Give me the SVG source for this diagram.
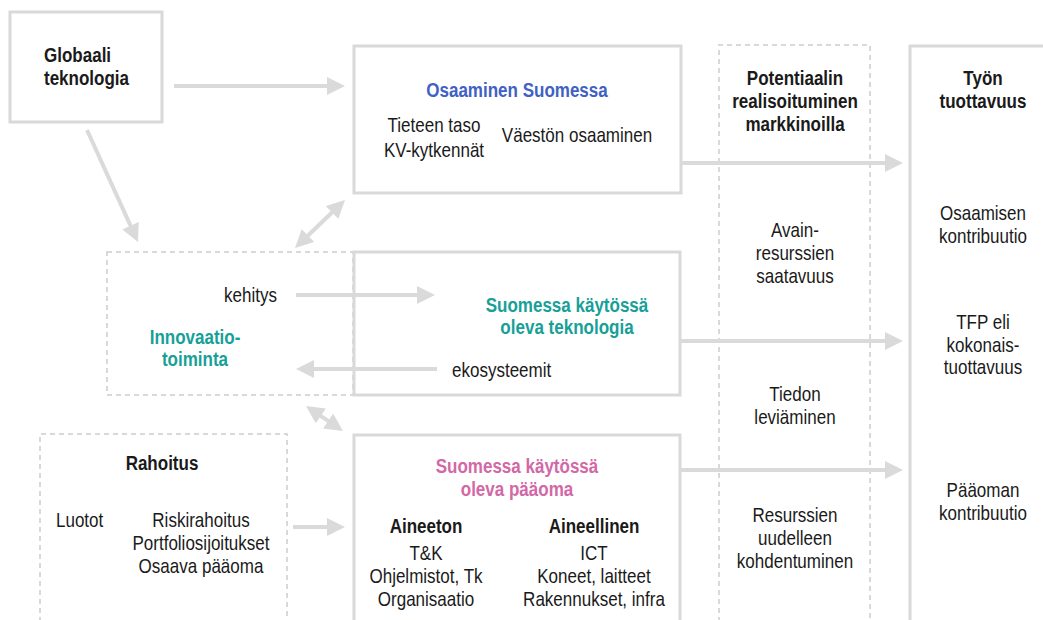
<svg xmlns="http://www.w3.org/2000/svg" width="1043" height="620" viewBox="0 0 1043 620">
<defs>
<style>
text{font-family:"Liberation Sans",Arial,sans-serif;font-size:20.5px;fill:#1a1a1a}
.b{font-weight:bold}
.c{text-anchor:middle}
.e{text-anchor:end}
.blue{fill:#3f61c4}
.teal{fill:#17a097}
.pink{fill:#d268a6}
.box{fill:none;stroke:#d9d9d9;stroke-width:3}
.dash{fill:none;stroke:#d9d9d9;stroke-width:2;stroke-dasharray:5 4}
.con line{stroke:#dadada;stroke-width:4}
</style>
<marker id="ah" markerUnits="userSpaceOnUse" markerWidth="18" markerHeight="18" viewBox="0 0 18 18" refX="4" refY="9" orient="auto-start-reverse">
<path d="M0,0 L18,9 L0,18 z" fill="#dadada"/>
</marker>
</defs>
<rect width="1043" height="620" fill="#ffffff"/>

<g id="potentiaali">
<path class="dash" d="M719,640 V45 H870 V640"/>
<text class="b c" transform="translate(795 85) scale(.83 1)">Potentiaalin</text>
<text class="b c" transform="translate(795 108) scale(.83 1)">realisoituminen</text>
<text class="b c" transform="translate(795 131) scale(.83 1)">markkinoilla</text>
<text class="c" transform="translate(795 237) scale(.83 1)">Avain-</text>
<text class="c" transform="translate(795 260) scale(.83 1)">resurssien</text>
<text class="c" transform="translate(795 283) scale(.83 1)">saatavuus</text>
<text class="c" transform="translate(795 401) scale(.83 1)">Tiedon</text>
<text class="c" transform="translate(795 424) scale(.83 1)">leviäminen</text>
<text class="c" transform="translate(795 522) scale(.83 1)">Resurssien</text>
<text class="c" transform="translate(795 545) scale(.83 1)">uudelleen</text>
<text class="c" transform="translate(795 568) scale(.83 1)">kohdentuminen</text>
</g>

<g id="tyon-tuottavuus">
<path class="box" d="M910,640 V46 H1060"/>
<text class="b c" transform="translate(983 85) scale(.83 1)">Työn</text>
<text class="b c" transform="translate(983 108) scale(.83 1)">tuottavuus</text>
<text class="c" transform="translate(983 220) scale(.83 1)">Osaamisen</text>
<text class="c" transform="translate(983 243) scale(.83 1)">kontribuutio</text>
<text class="c" transform="translate(983 329) scale(.83 1)">TFP eli</text>
<text class="c" transform="translate(983 352) scale(.83 1)">kokonais-</text>
<text class="c" transform="translate(983 374) scale(.83 1)">tuottavuus</text>
<text class="c" transform="translate(983 497) scale(.83 1)">Pääoman</text>
<text class="c" transform="translate(983 520) scale(.83 1)">kontribuutio</text>
</g>

<g id="globaali">
<rect class="box" x="10" y="12" width="152" height="110"/>
<text class="b" transform="translate(44 62) scale(.83 1)">Globaali</text>
<text class="b" transform="translate(44 85) scale(.83 1)">teknologia</text>
</g>

<g id="osaaminen">
<rect class="box" x="354" y="46" width="327" height="147"/>
<text class="b c blue" transform="translate(517 97) scale(.83 1)">Osaaminen Suomessa</text>
<text class="c" transform="translate(434 132) scale(.83 1)">Tieteen taso</text>
<text class="c" transform="translate(434 157) scale(.83 1)">KV-kytkennät</text>
<text class="c" transform="translate(577 142) scale(.83 1)">Väestön osaaminen</text>
</g>

<g id="innovaatio">
<rect class="dash" x="107" y="252" width="246" height="143"/>
<text class="e" transform="translate(277 302) scale(.83 1)">kehitys</text>
<text class="b c teal" transform="translate(195 344) scale(.83 1)">Innovaatio-</text>
<text class="b c teal" transform="translate(195 366) scale(.83 1)">toiminta</text>
</g>

<g id="teknologia">
<rect class="box" x="354" y="252" width="326" height="143"/>
<text class="b c teal" transform="translate(567 312) scale(.83 1)">Suomessa käytössä</text>
<text class="b c teal" transform="translate(567 334) scale(.83 1)">oleva teknologia</text>
<text transform="translate(452 377) scale(.83 1)">ekosysteemit</text>
</g>

<g id="rahoitus">
<path class="dash" d="M40,640 V434 H287 V640"/>
<text class="b c" transform="translate(162 470) scale(.83 1)">Rahoitus</text>
<text transform="translate(56 527) scale(.83 1)">Luotot</text>
<text class="c" transform="translate(201 527) scale(.83 1)">Riskirahoitus</text>
<text class="c" transform="translate(201 550) scale(.83 1)">Portfoliosijoitukset</text>
<text class="c" transform="translate(201 573) scale(.83 1)">Osaava pääoma</text>
</g>

<g id="paaoma">
<path class="box" d="M354,640 V435 H680 V640"/>
<text class="b c pink" transform="translate(517 473) scale(.83 1)">Suomessa käytössä</text>
<text class="b c pink" transform="translate(517 496) scale(.83 1)">oleva pääoma</text>
<text class="b c" transform="translate(426 533) scale(.83 1)">Aineeton</text>
<text class="c" transform="translate(426 560) scale(.83 1)">T&amp;K</text>
<text class="c" transform="translate(426 583) scale(.83 1)">Ohjelmistot, Tk</text>
<text class="c" transform="translate(426 606) scale(.83 1)">Organisaatio</text>
<text class="b c" transform="translate(594 533) scale(.83 1)">Aineellinen</text>
<text class="c" transform="translate(594 560) scale(.83 1)">ICT</text>
<text class="c" transform="translate(594 583) scale(.83 1)">Koneet, laitteet</text>
<text class="c" transform="translate(594 606) scale(.83 1)">Rakennukset, infra</text>
</g>

<g class="con" id="connectors">
<line x1="174" y1="86" x2="331" y2="86" marker-end="url(#ah)"/>
<line x1="87" y1="130" x2="132.2" y2="229.3" marker-end="url(#ah)"/>
<line x1="305.1" y1="238.3" x2="334.9" y2="209.7" marker-start="url(#ah)" marker-end="url(#ah)"/>
<line x1="681" y1="163" x2="889" y2="163" marker-end="url(#ah)"/>
<line x1="296" y1="295" x2="421" y2="295" marker-end="url(#ah)"/>
<line x1="437" y1="369" x2="310" y2="369" marker-end="url(#ah)"/>
<line x1="680" y1="341" x2="889" y2="341" marker-end="url(#ah)"/>
<line x1="317.6" y1="413.8" x2="331.4" y2="423.2" marker-start="url(#ah)" marker-end="url(#ah)"/>
<line x1="293" y1="527" x2="331" y2="527" marker-end="url(#ah)"/>
<line x1="680" y1="470" x2="889" y2="470" marker-end="url(#ah)"/>
</g>
</svg>
